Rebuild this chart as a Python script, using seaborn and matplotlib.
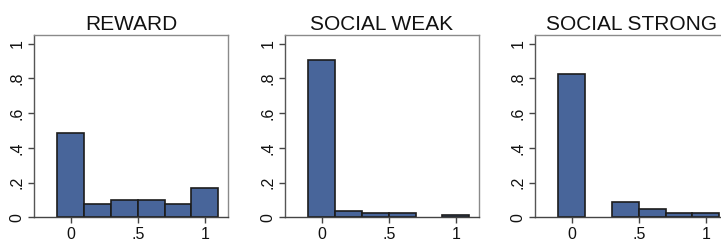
import matplotlib
matplotlib.use("Agg")
import matplotlib.pyplot as plt
import seaborn as sns
import numpy as np
import pandas as pd

# data
titles = ["REWARD", "SOCIAL WEAK", "SOCIAL STRONG"]
bin_centers = [0.0, 0.2, 0.4, 0.6, 0.8, 1.0]
reward = [0.488, 0.075, 0.100, 0.100, 0.075, 0.171]
social_weak = [0.907, 0.036, 0.023, 0.023, 0.0, 0.013]
social_strong = [0.824, 0.0, 0.090, 0.046, 0.023, 0.023]
series = [reward, social_weak, social_strong]
xtick_vals = [0, 0.5, 1]
xtick_labels = ["0", ".5", "1"]
ytick_vals = [0, 0.2, 0.4, 0.6, 0.8, 1.0]
ytick_labels = ["0", ".2", ".4", ".6", ".8", "1"]

sns.set_theme(style="white")
plt.rcParams["font.family"] = ["Liberation Sans", "DejaVu Sans"]

W, H = 721, 241
fig = plt.figure(figsize=(W / 100, H / 100), dpi=100)

lefts = [34, 285, 535]
ax_w, ax_top, ax_bot = 194, 35, 217.3
edges = [-0.1, 0.1, 0.3, 0.5, 0.7, 0.9, 1.1]

for i, (title, vals) in enumerate(zip(titles, series)):
    ax = fig.add_axes([lefts[i] / W, 1 - ax_bot / H, ax_w / W, (ax_bot - ax_top) / H])
    df = pd.DataFrame({"x": bin_centers, "w": vals})
    sns.histplot(data=df, x="x", weights="w", bins=edges, stat="count",
                 color="#48659a", alpha=1, edgecolor="#1c1c1c", linewidth=1.2, ax=ax)
    for p in ax.patches:
        if p.get_height() <= 0:
            p.set_visible(False)
    ax.set_xlim(-0.273, 1.173)
    ax.set_ylim(0, 1.05)
    ax.set_xticks(xtick_vals)
    ax.set_xticklabels(xtick_labels, fontsize=11.5)
    ax.set_yticks(ytick_vals)
    ax.set_yticklabels(ytick_labels, fontsize=11.5, rotation=90, va="center")
    ax.set_xlabel("")
    ax.set_ylabel("")
    ax.set_title(title, fontsize=15, pad=3.5, color="#111111")
    ax.tick_params(axis="both", which="major", length=4, width=1, color="#444444",
                   direction="out", bottom=True, left=True, pad=3, labelcolor="#111111")
    ax.spines["left"].set_color("#555555")
    ax.spines["bottom"].set_color("#444444")
    ax.spines["top"].set_color("#8a8a8a")
    ax.spines["right"].set_color("#8a8a8a")
    for s in ax.spines.values():
        s.set_linewidth(1.0)
    ax.set_facecolor("white")

fig.savefig("out.png", dpi=100, facecolor="white")
